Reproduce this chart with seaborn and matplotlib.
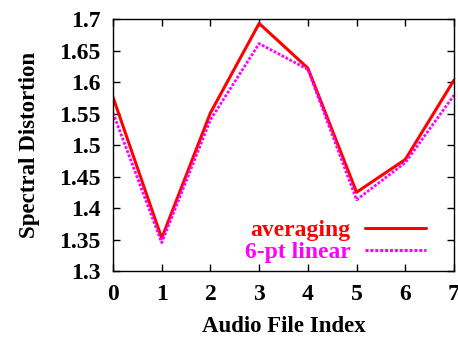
import matplotlib
matplotlib.use("Agg")
import matplotlib.pyplot as plt
import seaborn as sns
import pandas as pd

x_index = [0, 1, 2, 3, 4, 5, 6, 7]
averaging = [1.576, 1.352, 1.551, 1.693, 1.622, 1.425, 1.477, 1.603]
linear6 = [1.551, 1.345, 1.540, 1.661, 1.620, 1.413, 1.472, 1.579]
series_names = ["averaging", "6-pt linear"]
y_ticks = [1.3, 1.35, 1.4, 1.45, 1.5, 1.55, 1.6, 1.65, 1.7]
y_tick_labels = ["1.3", "1.35", "1.4", "1.45", "1.5", "1.55", "1.6", "1.65", "1.7"]

sns.set_style("ticks")
plt.rcParams['font.family'] = ['Liberation Serif', 'DejaVu Serif']
plt.rcParams['font.weight'] = 'bold'
plt.rcParams['text.color'] = 'black'
plt.rcParams['axes.labelcolor'] = 'black'

df = pd.DataFrame({
    "x": x_index * 2,
    "y": averaging + linear6,
    "series": [series_names[0]] * len(x_index) + [series_names[1]] * len(x_index),
})

fig = plt.figure(figsize=(4.58, 3.39), dpi=100)
ax = fig.add_axes([113/458, 1 - 271/339, (454-113)/458, (271-19)/339])

sns.lineplot(data=df, x="x", y="y", hue="series", style="series",
             palette={"averaging": "#ff0000", "6-pt linear": "#ff00ff"},
             dashes={"averaging": "", "6-pt linear": (1, 0.6)},
             ax=ax, legend=True)
for line, lw in zip(ax.lines, [2.2, 2.0]):
    line.set_linewidth(lw)

ax.set_xlim(0, 7)
ax.set_ylim(1.3, 1.7)
ax.set_xticks(x_index)
ax.set_yticks(y_ticks)
ax.set_yticklabels(y_tick_labels)
ax.tick_params(direction='in', top=True, right=True, length=5, width=1,
               labelsize=17, pad=9, colors='black')
for lab in ax.get_xticklabels() + ax.get_yticklabels():
    lab.set_fontweight('bold')
for s in ax.spines.values():
    s.set_visible(True)
    s.set_linewidth(1.0)
    s.set_color('black')

ax.set_xlabel("Audio File Index", fontsize=16.5, fontweight='bold',
              labelpad=8, color='black')
ax.set_ylabel("Spectral Distortion", fontsize=16.5, fontweight='bold',
              labelpad=14, color='black')

handles, labels = ax.get_legend_handles_labels()
leg = ax.legend(handles, labels, loc='lower right', frameon=False,
                markerfirst=False, labelcolor='linecolor',
                handlelength=2.6, borderaxespad=0.0, borderpad=0.0,
                handletextpad=0.6, labelspacing=0.02,
                bbox_to_anchor=(1 - 28/341, 8/252),
                prop={'weight': 'bold', 'size': 17})
for h in leg.get_lines():
    h.set_linewidth(2.2)

fig.savefig("out.png", dpi=100)
